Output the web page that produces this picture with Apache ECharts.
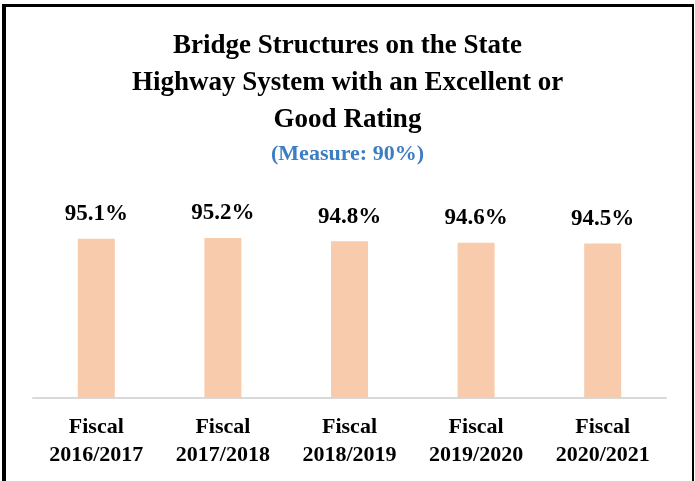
<!DOCTYPE html>
<html>
<head>
<meta charset="utf-8">
<script src="https://cdn.jsdelivr.net/npm/echarts@6/dist/echarts.min.js"></script>
<style>
  html, body { margin: 0; padding: 0; background: #fff; }
  #chart { width: 695px; height: 481px; }
</style>
</head>
<body>
<div id="chart"></div>
<script>
var categories = ['Fiscal\n2016/2017', 'Fiscal\n2017/2018', 'Fiscal\n2018/2019', 'Fiscal\n2019/2020', 'Fiscal\n2020/2021'];
var ratings = [95.1, 95.2, 94.8, 94.6, 94.5];

var serif = '"Liberation Serif", "Times New Roman", serif';
var myChart = echarts.init(document.getElementById('chart'));

myChart.setOption({
    animation: false,
    title: [{
        text: 'Bridge Structures on the State\nHighway System with an Excellent or\nGood Rating',
        left: 'center',
        top: 23,
        textStyle: {
            fontFamily: serif,
            fontWeight: 'bold',
            fontSize: 27,
            lineHeight: 37,
            color: '#000'
        }
    }, {
        text: '(Measure: 90%)',
        left: 'center',
        top: 138,
        textStyle: {
            fontFamily: serif,
            fontWeight: 'bold',
            fontSize: 22,
            color: '#3D7EC3'
        }
    }],
    grid: {
        left: 33,
        right: 29,
        top: 200,
        bottom: 83
    },
    xAxis: {
        type: 'category',
        data: categories,
        axisLine: { lineStyle: { color: '#D9D9D9', width: 2 } },
        axisTick: { show: false },
        axisLabel: {
            margin: 15,
            fontFamily: serif,
            fontWeight: 'bold',
            fontSize: 22,
            lineHeight: 28,
            color: '#000'
        }
    },
    yAxis: {
        type: 'value',
        min: 75,
        max: 100,
        show: false,
        splitLine: { show: false }
    },
    series: [{
        type: 'bar',
        data: ratings,
        barWidth: 37,
        itemStyle: { color: '#F7CBAC' },
        label: {
            show: true,
            position: 'top',
            distance: 13,
            formatter: '{c}%',
            fontFamily: serif,
            fontWeight: 'bold',
            fontSize: 23,
            color: '#000'
        }
    }],
    graphic: [
        { type: 'rect', shape: { x: 2, y: 4, width: 4, height: 477 }, style: { fill: '#000' } },
        { type: 'rect', shape: { x: 2, y: 4, width: 692, height: 3 }, style: { fill: '#000' } },
        { type: 'rect', shape: { x: 692, y: 4, width: 2, height: 477 }, style: { fill: '#000' } }
    ]
});
</script>
</body>
</html>
